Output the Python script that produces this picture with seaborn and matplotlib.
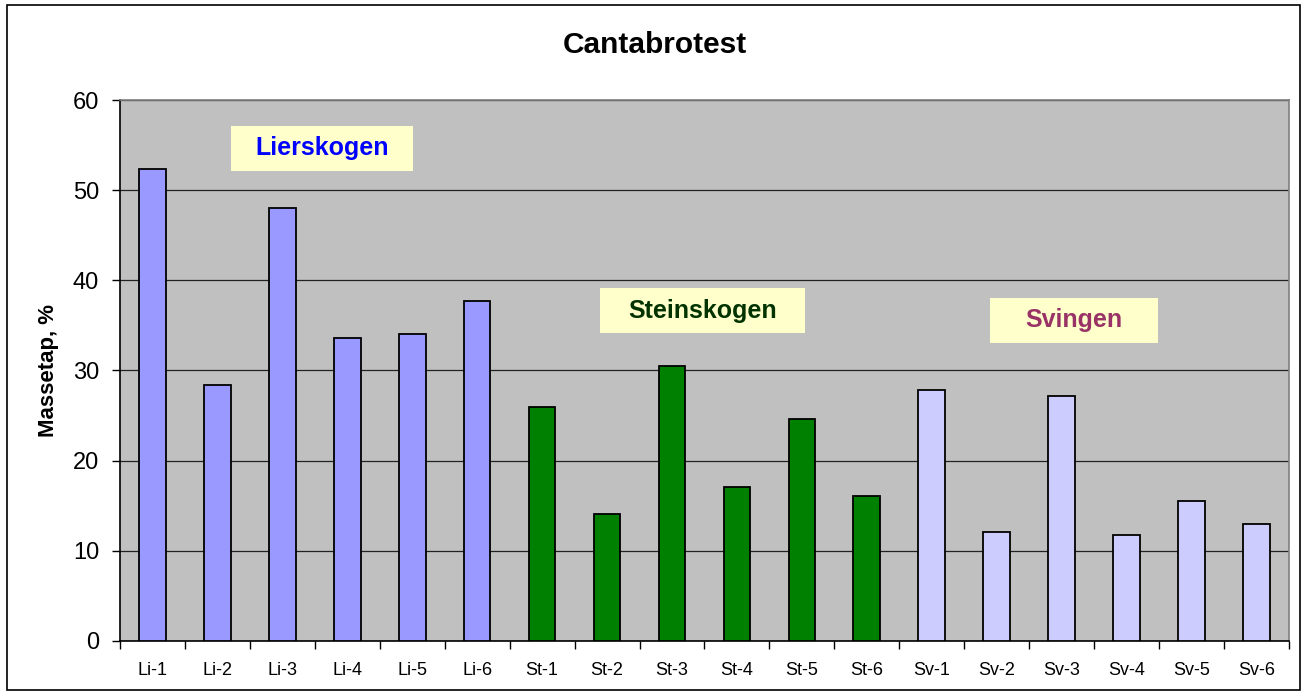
import matplotlib
matplotlib.use("Agg")
import numpy as np
import pandas as pd
import seaborn as sns
import matplotlib.pyplot as plt
from matplotlib.patches import Rectangle

# Dados
prover = ['Li-1', 'Li-2', 'Li-3', 'Li-4', 'Li-5', 'Li-6',
          'St-1', 'St-2', 'St-3', 'St-4', 'St-5', 'St-6',
          'Sv-1', 'Sv-2', 'Sv-3', 'Sv-4', 'Sv-5', 'Sv-6']
massetap = [52.4, 28.4, 48.0, 33.6, 34.0, 37.7,
            25.9, 14.1, 30.5, 17.1, 24.6, 16.1,
            27.8, 12.1, 27.2, 11.8, 15.5, 13.0]
omrade = ['Lierskogen'] * 6 + ['Steinskogen'] * 6 + ['Svingen'] * 6
farger = {'Lierskogen': '#9999FF', 'Steinskogen': '#008000', 'Svingen': '#CCCCFF'}

dados = pd.DataFrame({'Prove': prover, 'Massetap': massetap, 'Omrade': omrade})

sns.set_style('white')
plt.rcParams['font.family'] = ['Liberation Sans', 'DejaVu Sans']
plt.rcParams['text.color'] = 'black'
plt.rcParams['axes.labelcolor'] = 'black'
plt.rcParams['xtick.color'] = 'black'
plt.rcParams['ytick.color'] = 'black'

fig = plt.figure(figsize=(13.06, 6.98), dpi=100)
ax = fig.add_axes([0.0919, 0.0817, 0.895, 0.775])

sns.barplot(data=dados, x='Prove', y='Massetap', hue='Omrade', palette=farger,
            dodge=False, width=0.41, saturation=1, edgecolor='black', linewidth=1.3,
            legend=False, ax=ax, zorder=3)

ax.set_facecolor('#C0C0C0')
ax.set_ylim(0, 60)
ax.set_xlim(-0.5, len(prover) - 0.5)
ax.set_yticks(range(0, 61, 10))
ax.yaxis.grid(True, color='#222222', linewidth=0.9, zorder=0)
ax.set_axisbelow(True)

ax.set_xticks(np.arange(-0.5, len(prover), 1.0), minor=True)
ax.tick_params(axis='x', which='major', length=0, labelsize=13, pad=15, labelcolor='black')
ax.tick_params(axis='x', which='minor', length=6, width=1, color='black', direction='out')
ax.tick_params(axis='y', length=6, width=1, color='black', direction='out', labelsize=17,
               pad=9, labelcolor='black')
ax.xaxis.set_ticks_position('bottom')
ax.yaxis.set_ticks_position('left')

ax.set_xlabel('')
ax.set_ylabel('Massetap, %', fontsize=16, fontweight='bold', labelpad=10, color='black')
fig.text(0.5015, 0.924, 'Cantabrotest', fontsize=21.5, fontweight='bold',
         ha='center', va='baseline', color='black')

for lado in ['left', 'bottom']:
    ax.spines[lado].set_color('black')
    ax.spines[lado].set_linewidth(1.2)
for lado in ['top', 'right']:
    ax.spines[lado].set_color('#808080')
    ax.spines[lado].set_linewidth(1.2)

# Etiquetas das áreas
etiquetas = [
    ('Lierskogen', 0.095, 0.869, 0.156, '#0000FF'),
    ('Steinskogen', 0.411, 0.569, 0.175, '#003300'),
    ('Svingen', 0.744, 0.551, 0.144, '#993366'),
]
for texto, x0, y0, larg, cor in etiquetas:
    ax.add_patch(Rectangle((x0, y0), larg, 0.083, transform=ax.transAxes,
                           facecolor='#FFFFCC', edgecolor='none', zorder=4))
    ax.text(x0 + larg / 2, y0 + 0.0415, texto, transform=ax.transAxes,
            ha='center', va='center', fontsize=18, fontweight='bold', color=cor, zorder=5)

# Moldura externa
fig.patches.append(Rectangle((0.0054, 0.0115), 0.990, 0.981, transform=fig.transFigure,
                             fill=False, edgecolor='black', linewidth=1.2))

fig.savefig('out.png', dpi=100)
